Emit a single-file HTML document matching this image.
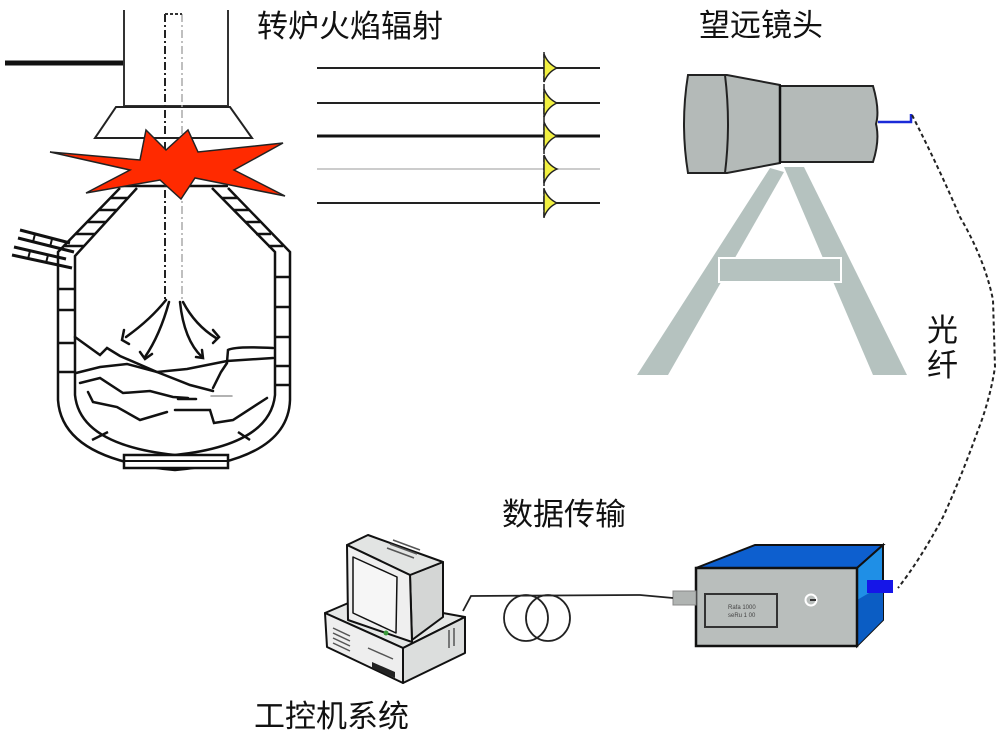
<!DOCTYPE html>
<html><head><meta charset="utf-8"><style>
html,body{margin:0;padding:0;background:#fff;}
svg{display:block;}
text{font-family:"Liberation Sans","Noto Sans CJK SC",sans-serif;font-size:31px;fill:#111;}
</style></head><body>
<svg width="1000" height="732" viewBox="0 0 1000 732" xmlns="http://www.w3.org/2000/svg">
<!-- Labels -->
<text x="257" y="37">转炉火焰辐射</text>
<text x="699" y="36">望远镜头</text>
<text x="502" y="525">数据传输</text>
<text x="254" y="727">工控机系统</text>
<text x="927" y="341">光</text>
<text x="927" y="376">纤</text>

<!-- Converter hood -->
<line x1="5" y1="63" x2="124" y2="63" stroke="#111" stroke-width="5"/>
<line x1="124" y1="10" x2="124" y2="106" stroke="#333" stroke-width="2"/>
<line x1="228" y1="10" x2="228" y2="106" stroke="#333" stroke-width="2"/>
<line x1="124" y1="106" x2="228" y2="106" stroke="#333" stroke-width="2"/>
<polygon points="116,107 230,107 252,138 95,138" fill="#fff" stroke="#222" stroke-width="2"/>

<!-- Converter body walls -->
<g fill="none" stroke="#111" stroke-width="2.5">
  <path d="M120,188 L58,252 L58,400 Q62,460 175,470 Q288,460 290,400 L290,252 L228,188"/>
  <path d="M137,188 L75,256 L75,395 Q80,445 175,455 Q270,445 275,395 L275,252 L212,188"/>
  <line x1="120" y1="186" x2="228" y2="186"/>
</g>
<!-- wall bricks -->
<g stroke="#111" stroke-width="2.5">
  <line x1="110" y1="198" x2="128" y2="198"/>
  <line x1="98" y1="210" x2="117" y2="210"/>
  <line x1="87" y1="222" x2="106" y2="222"/>
  <line x1="75" y1="234" x2="95" y2="234"/>
  <line x1="63" y1="246" x2="84" y2="246"/>
  <line x1="58" y1="289" x2="75" y2="289"/>
  <line x1="58" y1="310" x2="75" y2="310"/>
  <line x1="58" y1="343" x2="75" y2="343"/>
  <line x1="58" y1="372" x2="75" y2="372"/>
  <line x1="222" y1="198" x2="237" y2="198"/>
  <line x1="233" y1="210" x2="249" y2="210"/>
  <line x1="245" y1="222" x2="260" y2="222"/>
  <line x1="256" y1="234" x2="271" y2="234"/>
  <line x1="268" y1="246" x2="283" y2="246"/>
  <line x1="275" y1="277" x2="290" y2="277"/>
  <line x1="275" y1="307" x2="290" y2="307"/>
  <line x1="275" y1="337" x2="290" y2="337"/>
  <line x1="275" y1="366" x2="290" y2="366"/>
  <line x1="275" y1="385" x2="290" y2="385"/>
  <line x1="92" y1="440" x2="108" y2="432"/>
  <line x1="250" y1="440" x2="238" y2="432"/>
</g>
<rect x="124" y="455" width="104" height="13" fill="#fff" stroke="#111" stroke-width="2.5"/>
<line x1="124" y1="461" x2="228" y2="461" stroke="#111" stroke-width="2"/>
<!-- nozzle pipes -->
<g fill="none" stroke="#111" stroke-width="3">
  <path d="M18,238 L74,252"/>
  <path d="M20,230 L70,243"/>
  <path d="M12,255 L72,268"/>
  <path d="M14,247 L66,259"/>
</g>
<g stroke="#111" stroke-width="2">
  <line x1="35" y1="234" x2="33" y2="242"/>
  <line x1="52" y1="239" x2="50" y2="247"/>
  <line x1="30" y1="251" x2="28" y2="259"/>
  <line x1="48" y1="255" x2="46" y2="263"/>
</g>

<!-- Lance dash-dot -->
<line x1="165" y1="14" x2="165" y2="300" stroke="#222" stroke-width="2" stroke-dasharray="8,3,2,3"/>
<line x1="182" y1="14" x2="182" y2="300" stroke="#aaa" stroke-width="1.5" stroke-dasharray="8,3,2,3"/>
<line x1="165" y1="14" x2="182" y2="14" stroke="#333" stroke-width="2" stroke-dasharray="3,2"/>

<!-- Flame star -->
<polygon points="50,152 140,160 146,130 166,150 188,130 198,152 283,143 234,170 285,196 195,178 181,199 160,180 86,193 130,170" fill="#ff2a00" stroke="#222" stroke-width="1.5"/>

<!-- molten contents -->
<g fill="none" stroke="#111" stroke-width="2.5" stroke-linecap="round">
  <path d="M166,300 Q150,320 126,337"/>
  <path d="M124,330 L122,340 L129,344"/>
  <path d="M169,302 Q160,335 145,357"/>
  <path d="M140,352 L145,359 L152,354"/>
  <path d="M180,302 Q184,340 202,357"/>
  <path d="M196,357 L203,358 L202,350"/>
  <path d="M183,302 Q195,325 216,338"/>
  <path d="M213,330 L219,337 L213,343"/>
  <path d="M75,337 L100,355 L107,348 L120,356 L157,372 L190,385 L213,391"/>
  <path d="M76,373 L100,367 L127,364 L157,372 L187,369 L227,361 L273,358"/>
  <path d="M227,362 L228,350 Q235,346 273,348"/>
  <path d="M80,383 L100,378 L123,393 L150,391 L173,397 L188,398"/>
  <path d="M213,388 L221,372 L227,363"/>
  <path d="M88,392 L93,402 L117,407 L140,420 L167,412"/>
  <path d="M175,410 L210,410 L214,423 L233,420 L267,398"/>
  <path d="M178,399 L196,399"/>
  <path d="M211,396 L232,396" stroke="#999" stroke-width="1.5"/>
</g>

<!-- Rays -->
<g stroke-width="2">
  <line x1="317" y1="68" x2="600" y2="68" stroke="#222"/>
  <line x1="317" y1="103" x2="600" y2="103" stroke="#222"/>
  <line x1="317" y1="136" x2="600" y2="136" stroke="#111" stroke-width="3"/>
  <line x1="317" y1="169" x2="600" y2="169" stroke="#bbb" stroke-width="1.5"/>
  <line x1="317" y1="203" x2="600" y2="203" stroke="#222"/>
</g>
<line x1="544" y1="52" x2="544" y2="219" stroke="#222" stroke-width="1.5" stroke-dasharray="6,2"/>
<g fill="#f2f040" stroke="#222" stroke-width="1.5">
  <path d="M544,54 Q548,64 557,68 Q548,72 544,82 Z"/>
  <path d="M544,89 Q548,99 557,103 Q548,107 544,117 Z"/>
  <path d="M544,122 Q548,132 557,136 Q548,140 544,150 Z"/>
  <path d="M544,155 Q548,165 557,169 Q548,173 544,183 Z"/>
  <path d="M544,189 Q548,199 557,203 Q548,207 544,217 Z"/>
</g>

<!-- Tripod -->
<g fill="#b5c2bf">
  <polygon points="770,168 784,172 668,375 637,375"/>
  <polygon points="784,167 804,167 907,375 873,375"/>
  <rect x="719" y="258" width="122" height="24" stroke="#fff" stroke-width="2"/>
</g>
<!-- Telescope -->
<path d="M780,86 L873,86 Q880,110 876,124 Q880,140 873,162 L780,162 Z" fill="#b4bab8" stroke="#222" stroke-width="2"/>
<path d="M688,75 L727,75 L780,85 L780,163 L727,173 L688,173 Q680,124 688,75 Z" fill="#b4bab8" stroke="#222" stroke-width="2"/>
<path d="M725,75 Q731,124 725,173" fill="none" stroke="#222" stroke-width="2"/>
<line x1="780" y1="85" x2="780" y2="163" stroke="#111" stroke-width="2.5"/>
<path d="M878,122 L911,122 L911,114" fill="none" stroke="#1a2ad8" stroke-width="2.5"/>

<!-- Fiber dashed -->
<path d="M912,115 Q940,170 960,217 Q985,260 993,300 L995,367 Q990,400 977,433 Q960,480 943,517 Q920,560 898,588" fill="none" stroke="#222" stroke-width="2" stroke-dasharray="4,3"/>

<!-- Spectrometer box -->
<polygon points="696,568 755,545 883,545 857,568" fill="#0d5fcf" stroke="#111" stroke-width="2"/>
<polygon points="857,568 883,545 883,620 857,646" fill="#1f8fe6" stroke="#111" stroke-width="2"/>
<polygon points="857,600 883,585 883,620 857,646" fill="#0b5dc4"/>
<rect x="696" y="568" width="161" height="78" fill="#b9bebc" stroke="#111" stroke-width="2.5"/>
<rect x="705" y="594" width="72" height="33" fill="#b9bebc" stroke="#333" stroke-width="2"/>
<text x="728" y="609" style="font-size:6px;fill:#444">Rafa 1000</text>
<text x="728" y="617" style="font-size:6px;fill:#444">seRu 1 00</text>
<circle cx="811" cy="600" r="5.5" fill="none" stroke="#fff" stroke-width="2"/>
<line x1="810" y1="600" x2="816" y2="600" stroke="#333" stroke-width="2"/>
<rect x="867" y="580" width="26" height="13" fill="#1515e8"/>
<rect x="673" y="591" width="23" height="14" fill="#b0b4b2" stroke="#888" stroke-width="1"/>

<!-- Cable & coil -->
<path d="M463,611 L471,596 L640,595 L673,598" fill="none" stroke="#222" stroke-width="1.8"/>
<ellipse cx="526" cy="618" rx="22" ry="23" fill="none" stroke="#222" stroke-width="1.8"/>
<ellipse cx="548" cy="618" rx="22" ry="23" fill="none" stroke="#222" stroke-width="1.8"/>

<!-- Computer -->
<g stroke="#111" stroke-width="2" stroke-linejoin="round">
  <polygon points="325,613 360,598 465,617 403,648" fill="#e6e8e7"/>
  <polygon points="325,613 403,648 403,683 327,647" fill="#eeeeee"/>
  <polygon points="403,648 465,617 465,653 403,683" fill="#dcdedd"/>
  <polygon points="410,575 443,562 443,617 412,640" fill="#d4d6d5"/>
  <polygon points="347,545 368,535 443,562 410,575" fill="#e2e4e3"/>
  <polygon points="347,545 410,575 412,642 348,620" fill="#efefef"/>
  <polygon points="353,557 397,577 396,633 353,613" fill="#f6f6f6" stroke-width="1.5"/>
</g>
<g stroke="#555" stroke-width="1.5">
  <line x1="393" y1="540" x2="420" y2="550"/>
  <line x1="390" y1="544" x2="417" y2="554"/>
  <line x1="387" y1="548" x2="414" y2="558"/>
  <line x1="333" y1="628" x2="350" y2="636"/>
  <line x1="333" y1="633" x2="350" y2="641"/>
  <line x1="333" y1="638" x2="350" y2="646"/>
  <line x1="333" y1="643" x2="350" y2="651"/>
  <line x1="368" y1="648" x2="393" y2="659"/>
  <line x1="449" y1="630" x2="449" y2="648"/>
  <line x1="454" y1="628" x2="454" y2="646"/>
</g>
<polygon points="372,662 395,672 395,678 372,668" fill="#222"/>
<circle cx="386" cy="633" r="2.5" fill="#3a9a3a"/>
</svg>
</body></html>
